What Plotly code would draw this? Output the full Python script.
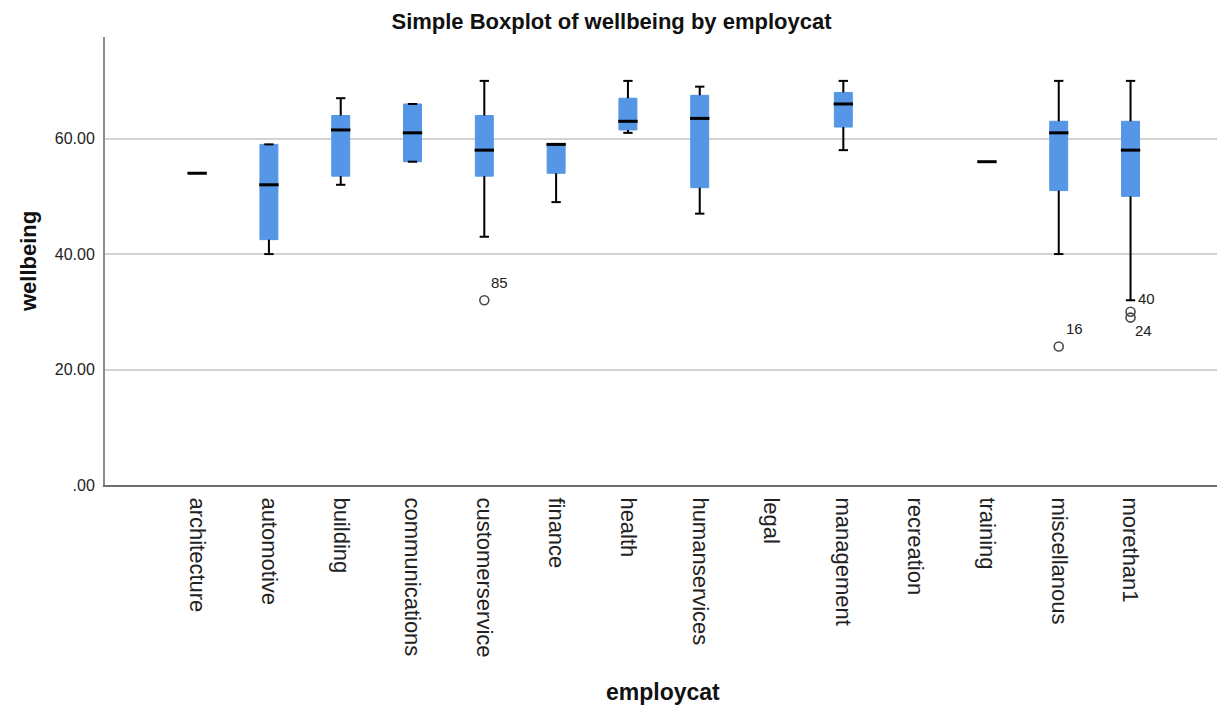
import plotly.graph_objects as go

# ---------------- data ----------------
categories = ["architecture", "automotive", "building", "communications",
              "customerservice", "finance", "health", "humanservices",
              "legal", "management", "recreation", "training",
              "miscellanous", "morethan1"]

lower_whisker = [54, 40, 52, 56, 43, 49, 61, 47, None, 58, None, 56, 40, 32]
q1_values     = [54, 42.5, 53.5, 56, 53.5, 54, 61.5, 51.5, None, 62, None, 56, 51, 50]
median_values = [54, 52, 61.5, 61, 58, 59, 63, 63.5, None, 66, None, 56, 61, 58]
q3_values     = [54, 59, 64, 66, 64, 59, 67, 67.5, None, 68, None, 56, 63, 63]
upper_whisker = [54, 59, 67, 66, 70, 59, 70, 69, None, 70, None, 56, 70, 70]

outlier_category = ["customerservice", "miscellanous", "morethan1", "morethan1"]
outlier_values   = [32, 24, 30, 29]
outlier_case_ids = ["85", "16", "40", "24"]

y_tick_values = [0, 20, 40, 60]
y_tick_labels = [".00", "20.00", "40.00", "60.00"]

# ---------------- styling ----------------
BOX_BLUE = "#5596e6"
FONT = "Liberation Sans, Arial, sans-serif"
BOX_W = 0.25
CAP_HALF = 0.065
MED_HALF = 0.135

idx = [i for i, v in enumerate(median_values) if v is not None]

fig = go.Figure()

# box bodies
fig.add_trace(go.Box(
    x=idx,
    q1=[q1_values[i] for i in idx],
    median=[median_values[i] for i in idx],
    q3=[q3_values[i] for i in idx],
    lowerfence=[lower_whisker[i] for i in idx],
    upperfence=[upper_whisker[i] for i in idx],
    width=BOX_W,
    whiskerwidth=0,
    fillcolor=BOX_BLUE,
    line=dict(color=BOX_BLUE, width=1),
    boxpoints=False,
    showlegend=False,
    hoverinfo="skip",
))

# whiskers (black)
wx, wy = [], []
for i in idx:
    if upper_whisker[i] != q3_values[i]:
        wx += [i, i, None]
        wy += [q3_values[i], upper_whisker[i], None]
    if lower_whisker[i] != q1_values[i]:
        wx += [i, i, None]
        wy += [q1_values[i], lower_whisker[i], None]
    if upper_whisker[i] != median_values[i] or lower_whisker[i] != median_values[i]:
        wx += [i - CAP_HALF, i + CAP_HALF, None]
        wy += [upper_whisker[i], upper_whisker[i], None]
        wx += [i - CAP_HALF, i + CAP_HALF, None]
        wy += [lower_whisker[i], lower_whisker[i], None]
fig.add_trace(go.Scatter(x=wx, y=wy, mode="lines",
                         line=dict(color="black", width=2),
                         showlegend=False, hoverinfo="skip"))

# medians
mx, my = [], []
for i in idx:
    mx += [i - MED_HALF, i + MED_HALF, None]
    my += [median_values[i], median_values[i], None]
fig.add_trace(go.Scatter(x=mx, y=my, mode="lines",
                         line=dict(color="black", width=3),
                         showlegend=False, hoverinfo="skip"))

# outliers
ox = [categories.index(c) for c in outlier_category]
fig.add_trace(go.Scatter(
    x=ox, y=outlier_values, mode="markers",
    marker=dict(symbol="circle-open", size=9, color="#4a4a4a",
                line=dict(width=1.6, color="#4a4a4a")),
    showlegend=False, hoverinfo="skip"))

label_offsets = {"85": (5, 7, "bottom"), "16": (5, 7, "bottom"),
                 "40": (5, 3, "bottom"), "24": (2, -2, "top")}
for x, y, t in zip(ox, outlier_values, outlier_case_ids):
    dx, dy, ya = label_offsets[t]
    fig.add_annotation(x=x, y=y, text=t, showarrow=False,
                       xanchor="left", yanchor=ya, xshift=dx, yshift=dy,
                       font=dict(family=FONT, size=15, color="#222"))

# axis titles as annotations for precise placement
fig.add_annotation(text="<b>employcat</b>", xref="paper", yref="paper",
                   x=0.5, y=-0.462, xanchor="center", yanchor="middle",
                   showarrow=False, font=dict(family=FONT, size=23, color="#111"))
fig.add_annotation(text="<b>wellbeing</b>", xref="paper", yref="paper",
                   x=-0.069, y=0.5, xanchor="center", yanchor="middle",
                   textangle=-90, showarrow=False,
                   font=dict(family=FONT, size=22, color="#111"))

# page has an 8px body margin, so offsets are compensated here
fig.update_layout(
    width=1225, height=719,
    margin=dict(l=97, r=12, t=29, b=242),
    paper_bgcolor="white", plot_bgcolor="white",
    title=dict(text="<b>Simple Boxplot of wellbeing by employcat</b>",
               x=603.5 / 1225, xref="container", xanchor="center",
               y=1 - 13 / 719, yref="container", yanchor="middle",
               font=dict(family=FONT, size=22, color="#111")),
    font=dict(family=FONT),
)

fig.update_xaxes(
    range=[-1.283, 14.26],
    tickmode="array",
    tickvals=list(range(len(categories))),
    ticktext=categories,
    tickangle=90,
    tickfont=dict(family=FONT, size=22, color="#222"),
    ticklabelstandoff=6,
    showgrid=False, zeroline=False,
    showline=True, linecolor="#6e6e6e", linewidth=2,
    ticks="",
)

fig.update_yaxes(
    range=[0, 77.6],
    tickmode="array",
    tickvals=y_tick_values,
    ticktext=y_tick_labels,
    tickfont=dict(family=FONT, size=16, color="#222"),
    ticklabelstandoff=5,
    showgrid=True, gridcolor="#d3d3d3", gridwidth=2,
    zeroline=False,
    showline=True, linecolor="#8a8a8a", linewidth=2,
    ticks="",
)

fig.write_html("out.html")
